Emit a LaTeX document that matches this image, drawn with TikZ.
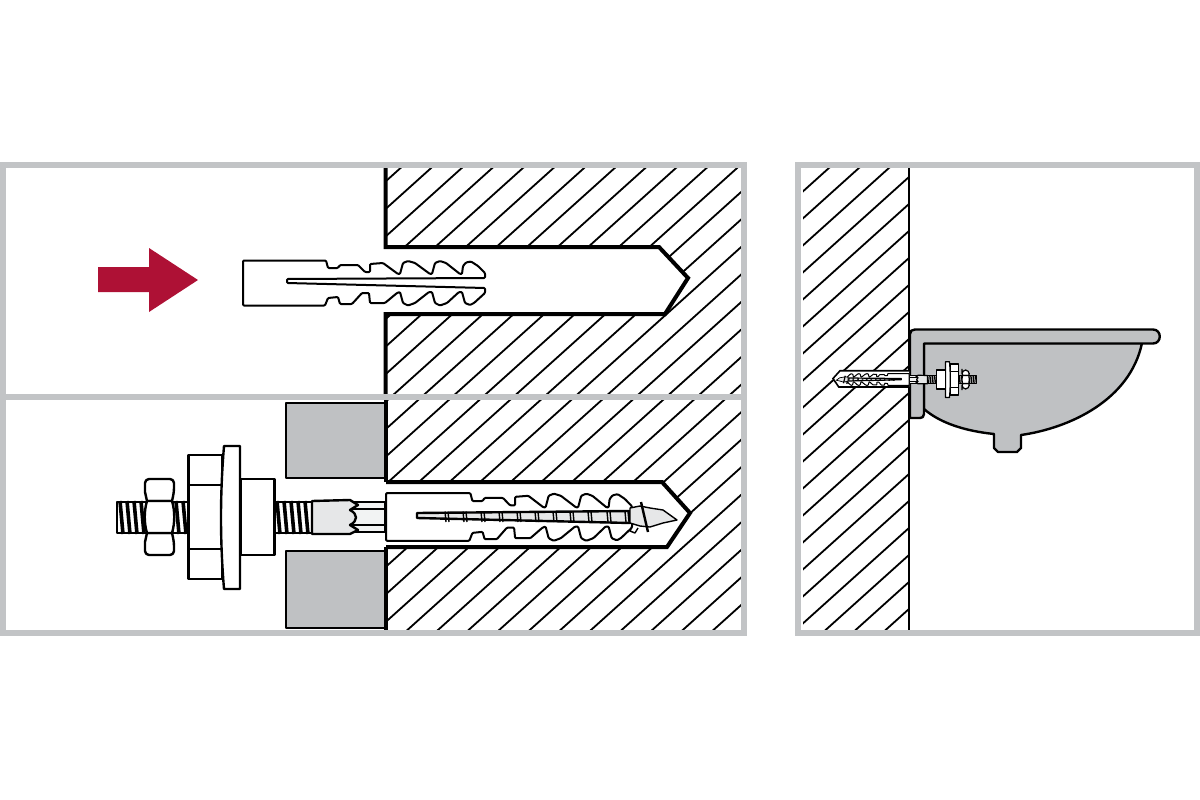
\documentclass[tikz,border=0pt]{standalone}
\usepackage{tikz}
\definecolor{framegray}{HTML}{C2C4C6}
\definecolor{partgray}{HTML}{BFC1C3}
\definecolor{sleevegray}{HTML}{E6E7E8}
\definecolor{arrowred}{HTML}{AE1135}
\tikzset{
  frameline/.style={draw=framegray, line width=6pt},
  hatchline/.style={line width=1.8pt},
  holeline/.style={line width=4pt, miter limit=8},
  partline/.style={line width=2.4pt, line join=round},
  thinline/.style={line width=1.4pt, line join=round},
  threadline/.style={line width=3.6pt},
  dowelline/.style={line width=2pt, line join=round, fill=white, rounded corners=1pt},
}
% the dowel, upper and lower half of its outline
\newcommand{\dowelupper}{(485,278) -- (485,273) -- (478,266) -- (471,261.5) -- (466,262.5) -- (463,266) -- (462,274) -- (460,274) -- (446,263) -- (440,261) -- (435,263) -- (432,274) -- (430,274) -- (415,263) -- (408,261) -- (403,263) -- (400,274) -- (398,274) -- (383,263) -- (370,264) -- (370,272) -- (365,272) -- (358,265) -- (340,265) -- (338,268) -- (328,268) -- (326,260.5) -- (243,260.5)}
\newcommand{\dowellower}{-- (243,305.5) -- (325,305.5) -- (328,298) -- (338,297) -- (340,304) -- (352,304) -- (362,293) -- (369,293) -- (370,303) -- (385,303) -- (397,293) -- (400,292) -- (403,303) -- (408,305.5) -- (415,303) -- (429,292) -- (432,292) -- (435,303) -- (440,305.5) -- (447,303) -- (459,292) -- (462,292) -- (465,303) -- (470,305) -- (474,303) -- (485,293) -- (485,288)}
% hole, bolt, nuts and screw, in the coordinates of the lower left panel
\newcommand{\fixture}{
  \path[fill=white] (386,482) -- (662,482) -- (690,513) -- (667,547) -- (386,547);
  \draw[holeline] (386,482) -- (662,482) -- (690,513) -- (667,547) -- (386,547);
  % thread
  \draw[thinline, fill=white] (117,502) rectangle (188,533);
  \draw[thinline, fill=white] (274,502) rectangle (312,533);
  \foreach \tx in {120,127,134,141,148,155,162,169,176,183,277,284,291,298,305}
    \draw[threadline] (\tx,501) -- (\tx+3,534);
  % hex nut
  \draw[partline, fill=white] (147,501) -- (145,492) {[rounded corners=4pt] -- (145,479) -- (174,479) -- (174,492)} -- (172,501) -- cycle;
  \draw[partline, fill=white] (147,533) -- (145,542) {[rounded corners=4pt] -- (145,555) -- (174,555) -- (174,542)} -- (172,533) -- cycle;
  \draw[partline, fill=white] (147,501) .. controls (144,511) and (144,523) .. (147,533) -- (172,533) .. controls (175,523) and (175,511) .. (172,501) -- cycle;
  % big nut, washer, sleeve
  \draw[partline, fill=white] (188.5,455) rectangle (222,579);
  \draw[partline] (188.5,485) -- (222,485) (188.5,549) -- (222,549);
  \draw[partline, fill=white] (224,446) -- (240,446) -- (240,589) -- (224,589) .. controls (220,540) and (220,495) .. cycle;
  \draw[partline, fill=white] (241,479) rectangle (274.5,555);
  % bit and sleeve
  \draw[thinline, fill=sleevegray!50] (350,502) rectangle (385,532);
  \draw[thinline] (350,509) -- (385,509) (350,525) -- (385,525);
  \draw[partline, fill=sleevegray] (312,501) -- (350,500) -- (358,505) -- (350,510) .. controls (358,514) and (358,521) .. (350,525) -- (358,530) -- (350,534) -- (312,534) -- cycle;
  % dowel
  \begin{scope}[shift={(139,217)}, xscale=1.0165, yscale=1.06]
    \draw[dowelline] \dowelupper \dowellower;
  \end{scope}
  % screw
  \draw[partline, fill=sleevegray] (417,513) -- (630,511) -- (630,523) -- (417,518) -- cycle;
  \foreach \tx in {445,463,481,499,517,535,553,570,588,607,625} {
    \draw[thinline] (\tx,511.5) -- (\tx+1,522);
    \draw[thinline] (\tx+3,511.5) -- (\tx+4,522);
  }
  \draw[thinline, fill=sleevegray] (630,508) -- (640,506) -- (650,508) -- (663,510) -- (677,520) -- (663,523) -- (650,527) -- (640,526) -- (630,523) -- cycle;
  \draw[partline] (641,502) -- (648,532);
  \draw[thinline] (632,526) -- (630,531) -- (635,533) -- (638,528);
}

\begin{document}
\begin{tikzpicture}[x=1pt, y=-1pt]
  \useasboundingbox (0,0) rectangle (1200,800);
  % hatching of the left wall
  \begin{scope}
    \clip (386,168) rectangle (741,630);
    \foreach \i in {-4,...,26}
      \draw[hatchline] ({679+\i*30.6-160/0.9},160) -- ({679+\i*30.6-640/0.9},640);
  \end{scope}
  % hatching of the right wall
  \begin{scope}
    \clip (803,168) rectangle (908,630);
    \foreach \i in {-8,...,14}
      \draw[hatchline] ({1225.6+\i*30-160/0.9},160) -- ({1225.6+\i*30-640/0.9},640);
  \end{scope}
  % upper panel
  \path[fill=white] (380,247) -- (659,247) -- (688,278) -- (665,314) -- (380,314) -- cycle;
  \draw[holeline] (385.5,168) -- (385.5,247) -- (659,247) -- (688,278) -- (665,314) -- (385.5,314) -- (385.5,394);
  \draw[dowelline] \dowelupper \dowellower -- (287,283) -- (287,279) -- cycle;
  \fill[arrowred] (98,267) -- (149,267) -- (149,248) -- (198,280) -- (149,312) -- (149,292) -- (98,292) -- cycle;
  % lower panel
  \draw[partline, fill=partgray] (286,403) rectangle (386,478);
  \draw[partline, fill=partgray] (286,551) rectangle (386,628);
  \draw[holeline] (386,400) -- (386,482);
  \draw[holeline] (386,547) -- (386,630);
  \fixture
  % right panel
  \draw[line width=2pt] (908.5,168) -- (908.5,630);
  \draw[partline, fill=partgray] (924,343) -- (1142,343) .. controls (1130,400) and (1070,428) .. (1021,435) -- (1021,448) -- (1017,452) -- (998,452) -- (994,448) -- (994,434) .. controls (965,431) and (940,423) .. (924,409) -- cycle;
  \draw[partline, fill=partgray] (914,418) -- (910,418) -- (910,334) .. controls (910,331) and (912,329.5) .. (915,329.5) -- (1153,329.5) .. controls (1162,329.5) and (1162,343.5) .. (1153,343.5) -- (924,343.5) -- (924,414) .. controls (924,417) and (922,418) .. (920,418) -- cycle;
  \begin{scope}[shift={(1005.5,250.25)}, xscale=-.25, yscale=.25,
      holeline/.style={line width=1.6pt},
      partline/.style={line width=1.2pt, line join=round},
      thinline/.style={line width=.7pt, line join=round},
      threadline/.style={line width=1.2pt},
      dowelline/.style={line width=1pt, line join=round, fill=white}]
    \fixture
  \end{scope}
  % frames
  \draw[frameline] (3,165) rectangle (744,633);
  \draw[frameline] (3,397) -- (744,397);
  \draw[frameline] (798,165) rectangle (1197,633);
\end{tikzpicture}
\end{document}
